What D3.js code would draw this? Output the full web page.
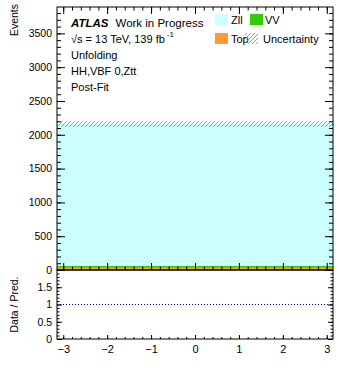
<!DOCTYPE html>
<html><head><meta charset="utf-8">
<script src="https://cdn.jsdelivr.net/npm/d3@7"></script>
<style>
body{margin:0;background:#fff;}
svg{display:block;font-family:"Liberation Sans",Arial,Helvetica,sans-serif;}
.tick text{font-family:"Liberation Sans",Arial,sans-serif;}
</style></head>
<body><svg id="c" width="339" height="376"></svg>
<script>
// ---- data ----
const binEdges = [-Math.PI, Math.PI];
const topVals = [33];
const vvVals = [30];
const zllVals = [2097];
const uncVals = [40];
const ratioLine = 1;
const yMainTicks = [0, 500, 1000, 1500, 2000, 2500, 3000, 3500];
const yRatioTicks = [0, 0.5, 1, 1.5];
const xTicks = [-3, -2, -1, 0, 1, 2, 3];
const legendItems = ["Zll", "VV", "Top", "Uncertainty"];
const textLines = ["Unfolding", "HH,VBF 0,Ztt", "Post-Fit"];

// ---- layout ----
const L = 57, R = 333, T = 7, MB = 270, RB = 339;
const svg = d3.select("#c");
const x = d3.scaleLinear().domain([-Math.PI, Math.PI]).range([L, R]);
const y = d3.scaleLinear().domain([0, 3890]).range([MB, T]);
const yr = d3.scaleLinear().domain([0, 2]).range([RB, MB]);

const col = {zll: "#ccffff", vv: "#33cc00", top: "#ff9933", hatch: "#8080ee"};

const defs = svg.append("defs");
const pat = defs.append("pattern").attr("id", "hatch").attr("patternUnits", "userSpaceOnUse")
  .attr("width", 4).attr("height", 4);
pat.append("path").attr("d", "M-1,1 l2,-2 M0,4 l4,-4 M3,5 l2,-2")
  .attr("stroke", col.hatch).attr("stroke-width", 0.9);

// stacked bins
const bins = zllVals.map((v, i) => ({x0: binEdges[i], x1: binEdges[i + 1], top: topVals[i], vv: vvVals[i], zll: v, unc: uncVals[i]}));
const stack = d3.stack().keys(["top", "vv", "zll"])(bins);
const colors = [col.top, col.vv, col.zll];
stack.forEach((layer, li) => {
  svg.append("g").selectAll("rect").data(layer).join("rect")
    .attr("x", d => x(d.data.x0)).attr("width", d => x(d.data.x1) - x(d.data.x0))
    .attr("y", d => y(d[1])).attr("height", d => y(d[0]) - y(d[1]))
    .attr("fill", colors[li]);
});
// uncertainty hatch
svg.append("g").selectAll("rect").data(bins).join("rect")
  .attr("x", d => x(d.x0)).attr("width", d => x(d.x1) - x(d.x0))
  .attr("y", d => y(d.top + d.vv + d.zll + d.unc))
  .attr("height", d => y(d.top + d.vv + d.zll - d.unc) - y(d.top + d.vv + d.zll + d.unc))
  .attr("fill", "url(#hatch)");

// ratio line
svg.append("line").attr("x1", L).attr("x2", R).attr("y1", yr(ratioLine)).attr("y2", yr(ratioLine))
  .attr("stroke", "#000080").attr("stroke-width", 1).attr("stroke-dasharray", "1,2");

// ---- axes ----
function minorVals(dom, step) {
  const out = [];
  const a = Math.ceil(dom[0] / step - 1e-9), b = Math.floor(dom[1] / step + 1e-9);
  for (let k = a; k <= b; k++) out.push(+(k * step).toFixed(6));
  return out;
}
function clean(g) { g.select(".domain").remove(); g.selectAll("line").attr("stroke", "#000"); }
const fs = "10.5px";
const plain = d => String(d);

// main left
svg.append("g").attr("transform", `translate(${L},0)`)
  .call(d3.axisLeft(y).tickValues(yMainTicks).tickSizeInner(-8).tickSizeOuter(0).tickPadding(5).tickFormat(plain))
  .call(clean).selectAll("text").style("font-size", fs).attr("fill", "#000");
svg.append("g").attr("transform", `translate(${L},0)`)
  .call(d3.axisLeft(y).tickValues(minorVals(y.domain(), 100)).tickSizeInner(-4).tickSizeOuter(0).tickFormat(""))
  .call(clean);
// main right
svg.append("g").attr("transform", `translate(${R},0)`)
  .call(d3.axisRight(y).tickValues(yMainTicks).tickSizeInner(-8).tickSizeOuter(0).tickFormat(""))
  .call(clean);
svg.append("g").attr("transform", `translate(${R},0)`)
  .call(d3.axisRight(y).tickValues(minorVals(y.domain(), 100)).tickSizeInner(-4).tickSizeOuter(0).tickFormat(""))
  .call(clean);
// main bottom / top x ticks
[[MB, d3.axisBottom], [T, d3.axisTop]].forEach(([py, ax]) => {
  svg.append("g").attr("transform", `translate(0,${py})`)
    .call(ax(x).tickValues(xTicks).tickSizeInner(-7).tickSizeOuter(0).tickFormat("")).call(clean);
  svg.append("g").attr("transform", `translate(0,${py})`)
    .call(ax(x).tickValues(minorVals(x.domain(), 0.2)).tickSizeInner(-3.5).tickSizeOuter(0).tickFormat("")).call(clean);
});

// ratio left
svg.append("g").attr("transform", `translate(${L},0)`)
  .call(d3.axisLeft(yr).tickValues(yRatioTicks).tickSizeInner(-5).tickSizeOuter(0).tickPadding(5).tickFormat(plain))
  .call(clean).selectAll("text").style("font-size", fs).attr("fill", "#000");
svg.append("g").attr("transform", `translate(${L},0)`)
  .call(d3.axisLeft(yr).tickValues(minorVals(yr.domain(), 0.1)).tickSizeInner(-2.5).tickSizeOuter(0).tickFormat(""))
  .call(clean);
svg.append("g").attr("transform", `translate(${R},0)`)
  .call(d3.axisRight(yr).tickValues(yRatioTicks).tickSizeInner(-5).tickSizeOuter(0).tickFormat(""))
  .call(clean);
svg.append("g").attr("transform", `translate(${R},0)`)
  .call(d3.axisRight(yr).tickValues(minorVals(yr.domain(), 0.1)).tickSizeInner(-2.5).tickSizeOuter(0).tickFormat(""))
  .call(clean);
// ratio bottom
svg.append("g").attr("transform", `translate(0,${RB})`)
  .call(d3.axisBottom(x).tickValues(xTicks).tickSizeInner(-4).tickSizeOuter(0).tickPadding(6)
    .tickFormat(d => d < 0 ? "\u2212" + Math.abs(d) : String(d)))
  .call(clean).selectAll("text").style("font-size", "11px").attr("fill", "#000");
svg.append("g").attr("transform", `translate(0,${RB})`)
  .call(d3.axisBottom(x).tickValues(minorVals(x.domain(), 0.2)).tickSizeInner(-2).tickSizeOuter(0).tickFormat(""))
  .call(clean);

// frames
svg.append("rect").attr("x", L).attr("y", T).attr("width", R - L).attr("height", MB - T)
  .attr("fill", "none").attr("stroke", "#000").attr("stroke-width", 1);
svg.append("rect").attr("x", L).attr("y", MB).attr("width", R - L).attr("height", RB - MB)
  .attr("fill", "none").attr("stroke", "#000").attr("stroke-width", 1);

// axis titles
svg.append("text").attr("transform", "translate(18,4) rotate(-90)").attr("text-anchor", "end")
  .style("font-size", "10.5px").text("Events");
svg.append("text").attr("transform", `translate(18,${(MB + RB) / 2}) rotate(-90)`).attr("text-anchor", "middle")
  .style("font-size", "10.5px").text("Data / Pred.");

// ATLAS label
const lab = svg.append("text").attr("x", 71).attr("y", 27).style("font-size", "11.5px");
lab.append("tspan").style("font-weight", "bold").style("font-style", "italic").text("ATLAS");
lab.append("tspan").attr("dx", 7).text("Work in Progress");
const en = svg.append("text").attr("x", 71).attr("y", 43).style("font-size", "11px");
en.append("tspan").text("\u221As = 13 TeV, 139 fb");
en.append("tspan").attr("dy", -6).attr("dx", 2).style("font-size", "8px").text("-1");
textLines.forEach((t, i) => svg.append("text").attr("x", 71).attr("y", 59 + i * 16)
  .style("font-size", "11px").text(t));

// legend
const leg = [
  {name: legendItems[0], fill: col.zll, bx: 215, by: 14, tx: 231, ty: 24},
  {name: legendItems[1], fill: col.vv, bx: 250, by: 14, tx: 265, ty: 24},
  {name: legendItems[2], fill: col.top, bx: 215, by: 33, tx: 231, ty: 43},
  {name: legendItems[3], fill: "url(#hatch)", bx: 245, by: 33, tx: 263, ty: 43}
];
leg.forEach(d => {
  svg.append("rect").attr("x", d.bx).attr("y", d.by).attr("width", 13).attr("height", 11).attr("fill", d.fill);
  svg.append("text").attr("x", d.tx).attr("y", d.ty).style("font-size", "11px").text(d.name);
});
</script></body></html>
